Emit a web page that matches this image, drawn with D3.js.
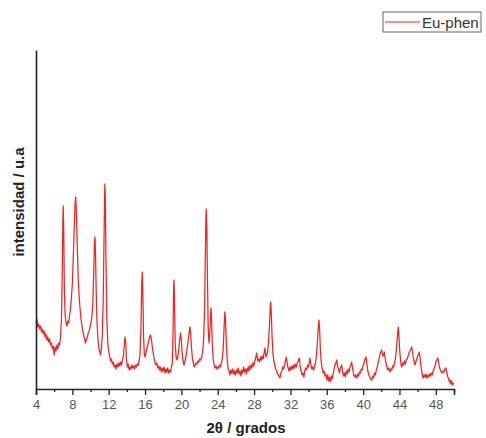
<!DOCTYPE html>
<html><head><meta charset="utf-8">
<script src="https://cdnjs.cloudflare.com/ajax/libs/d3/7.8.5/d3.min.js"></script>
<style>html,body{margin:0;padding:0;background:#fff;}svg{display:block;}</style>
</head><body>
<script>
const seriesName = "Eu-phen";
const xTicks = [4,8,12,16,20,24,28,32,36,40,44,48];
const xMinorTicks = [6,10,14,18,22,26,30,34,38,42,46,50];
const xTitle = "2θ / grados";
const yTitle = "intensidad / u.a";
// [2θ, intensity (a.u.)]
const pattern = [
[4.0,66],[4.1,70],[4.2,62],[4.3,65],[4.4,60],[4.5,63],[4.6,57],[4.7,60],[4.8,55],[4.9,58],[5.0,52],[5.1,55],[5.2,49],[5.3,52],[5.4,47],[5.5,50],[5.6,44],[5.7,46],[5.8,40],[5.9,43],[6.0,34],[6.1,42],[6.2,38],[6.3,44],[6.4,40],[6.5,46],[6.6,44],[6.7,52],[6.8,70],[6.88,110],[6.95,165],[7.0,183],[7.05,160],[7.12,100],[7.2,75],[7.3,66],[7.4,63],[7.5,68],[7.6,66],[7.7,74],[7.8,80],[7.9,92],[8.0,105],[8.1,130],[8.2,160],[8.3,185],[8.37,192],[8.45,175],[8.55,140],[8.65,110],[8.75,92],[8.85,80],[8.95,70],[9.05,64],[9.15,58],[9.25,54],[9.35,50],[9.45,46],[9.55,50],[9.65,52],[9.75,56],[9.85,58],[9.95,62],[10.05,66],[10.15,72],[10.25,85],[10.35,115],[10.43,145],[10.49,152],[10.55,135],[10.62,100],[10.7,70],[10.8,52],[10.9,42],[11.0,38],[11.1,34],[11.2,40],[11.3,55],[11.4,90],[11.5,160],[11.57,205],[11.63,190],[11.7,130],[11.8,70],[11.9,46],[12.0,38],[12.1,33],[12.2,28],[12.3,30],[12.4,25],[12.5,27],[12.6,22],[12.7,24],[12.8,20],[12.9,25],[13.0,22],[13.1,26],[13.2,23],[13.3,27],[13.4,24],[13.5,28],[13.6,32],[13.7,42],[13.8,52],[13.88,46],[13.95,30],[14.05,22],[14.15,25],[14.25,19],[14.35,22],[14.45,20],[14.55,24],[14.65,21],[14.75,23],[14.85,20],[14.95,24],[15.05,22],[15.15,25],[15.25,24],[15.35,28],[15.45,35],[15.55,60],[15.63,105],[15.7,117],[15.76,95],[15.83,55],[15.92,35],[16.0,32],[16.1,36],[16.2,40],[16.3,44],[16.4,48],[16.5,52],[16.6,54],[16.7,50],[16.8,42],[16.9,36],[17.0,30],[17.1,27],[17.2,24],[17.3,26],[17.4,21],[17.5,23],[17.6,19],[17.7,22],[17.8,17],[17.9,21],[18.0,18],[18.1,22],[18.2,16],[18.3,20],[18.4,17],[18.5,21],[18.6,16],[18.7,19],[18.8,17],[18.9,22],[19.0,26],[19.08,55],[19.14,100],[19.19,109],[19.25,85],[19.32,45],[19.42,32],[19.52,29],[19.62,33],[19.72,40],[19.82,50],[19.92,56],[20.0,48],[20.08,36],[20.18,28],[20.29,24],[20.4,28],[20.5,32],[20.6,38],[20.7,45],[20.8,52],[20.9,60],[20.95,62],[21.02,55],[21.12,40],[21.22,30],[21.32,26],[21.42,22],[21.52,24],[21.62,26],[21.72,25],[21.82,28],[21.92,27],[22.02,30],[22.12,29],[22.24,32],[22.35,38],[22.45,50],[22.55,80],[22.63,130],[22.7,172],[22.74,180],[22.8,160],[22.87,110],[22.95,60],[23.04,46],[23.12,55],[23.2,72],[23.26,81],[23.32,70],[23.4,45],[23.5,30],[23.6,24],[23.7,21],[23.8,23],[23.9,20],[24.0,22],[24.1,21],[24.2,24],[24.3,22],[24.4,26],[24.5,30],[24.6,40],[24.7,62],[24.78,77],[24.85,70],[24.95,45],[25.05,28],[25.15,20],[25.25,18],[25.35,14],[25.45,19],[25.55,16],[25.65,20],[25.75,15],[25.85,18],[25.95,14],[26.05,19],[26.15,16],[26.25,21],[26.35,15],[26.45,18],[26.55,13],[26.65,19],[26.75,16],[26.85,22],[26.95,17],[27.05,20],[27.15,15],[27.25,21],[27.35,18],[27.45,23],[27.55,19],[27.65,24],[27.75,21],[27.85,26],[27.95,23],[28.05,27],[28.15,30],[28.29,36],[28.4,28],[28.5,30],[28.6,27],[28.7,32],[28.8,29],[28.9,33],[29.0,30],[29.1,36],[29.2,41],[29.3,32],[29.4,34],[29.5,38],[29.6,48],[29.7,65],[29.78,82],[29.83,87],[29.9,75],[29.98,52],[30.08,35],[30.18,28],[30.28,24],[30.38,20],[30.48,18],[30.58,15],[30.68,14],[30.78,12],[30.85,11],[30.95,16],[31.05,18],[31.15,22],[31.25,20],[31.35,24],[31.45,28],[31.55,32],[31.65,25],[31.75,21],[31.85,18],[31.95,22],[32.05,19],[32.15,23],[32.25,20],[32.35,24],[32.45,21],[32.55,25],[32.65,22],[32.75,26],[32.85,28],[32.98,31],[33.08,22],[33.18,18],[33.28,14],[33.38,16],[33.48,12],[33.58,18],[33.68,21],[33.78,19],[33.88,24],[33.98,22],[34.08,27],[34.15,31],[34.25,24],[34.35,20],[34.45,22],[34.55,19],[34.65,23],[34.75,26],[34.85,32],[34.95,44],[35.05,60],[35.14,69],[35.22,58],[35.3,38],[35.4,26],[35.5,20],[35.6,16],[35.7,18],[35.8,13],[35.9,15],[36.0,9],[36.1,14],[36.2,8],[36.3,12],[36.4,7],[36.5,13],[36.6,10],[36.7,15],[36.8,20],[36.9,24],[37.0,26],[37.09,29],[37.2,22],[37.3,20],[37.4,16],[37.5,21],[37.64,24],[37.75,17],[37.85,13],[37.95,16],[38.05,12],[38.15,18],[38.25,15],[38.35,20],[38.45,17],[38.55,22],[38.65,24],[38.74,27],[38.85,20],[38.95,15],[39.05,12],[39.15,14],[39.3,11],[39.4,15],[39.5,13],[39.6,17],[39.7,16],[39.8,20],[39.9,19],[40.0,24],[40.1,26],[40.2,30],[40.32,32],[40.42,25],[40.52,18],[40.62,14],[40.72,12],[40.82,10],[40.94,9],[41.05,13],[41.15,11],[41.25,16],[41.35,14],[41.45,19],[41.55,22],[41.65,26],[41.75,30],[41.85,35],[41.95,37],[42.04,39],[42.15,33],[42.25,34],[42.33,37],[42.42,31],[42.52,26],[42.62,22],[42.72,19],[42.82,21],[42.96,17],[43.05,20],[43.15,19],[43.25,23],[43.35,22],[43.45,26],[43.55,30],[43.65,38],[43.75,50],[43.82,58],[43.87,62],[43.93,55],[44.0,42],[44.1,30],[44.18,24],[44.25,22],[44.35,26],[44.45,24],[44.55,28],[44.65,25],[44.75,29],[44.85,30],[44.95,33],[45.05,36],[45.15,38],[45.25,40],[45.35,42],[45.45,36],[45.55,30],[45.65,26],[45.71,24],[45.8,27],[45.9,30],[46.0,33],[46.1,35],[46.18,37],[46.28,30],[46.38,22],[46.48,16],[46.55,13],[46.62,11],[46.7,14],[46.8,12],[46.9,15],[47.0,11],[47.1,14],[47.2,12],[47.3,15],[47.4,13],[47.5,16],[47.6,14],[47.7,18],[47.8,20],[47.9,23],[48.0,27],[48.1,29],[48.2,31],[48.3,27],[48.4,22],[48.5,19],[48.6,17],[48.7,16],[48.8,18],[48.9,17],[49.0,20],[49.12,21],[49.22,16],[49.32,12],[49.42,10],[49.5,7],[49.56,9],[49.65,5],[49.75,8],[49.85,4],[49.95,6]
];

const W = 486, H = 438;
const svg = d3.select("body").append("svg").attr("width", W).attr("height", H);
const x = d3.scaleLinear().domain([4, 50]).range([36, 454]);
const y = d3.scaleLinear().domain([0, 339]).range([389, 50]);

// data line
const line = d3.line().x(d => x(d[0])).y(d => y(d[1]));
svg.append("path").datum(pattern)
  .attr("fill", "none").attr("stroke", "#ec2424").attr("stroke-width", 1.25)
  .attr("stroke-linejoin", "round")
  .attr("d", line);

// x axis
const xAxis = d3.axisBottom(x).tickValues(xTicks).tickSize(6).tickPadding(5).tickFormat(d3.format("d"));
const gx = svg.append("g").attr("transform", "translate(0,389)").call(xAxis);
gx.select(".domain").attr("stroke", "#222").attr("stroke-width", 1.6);
gx.selectAll(".tick line").attr("stroke", "#222").attr("stroke-width", 1.3);
gx.selectAll(".tick text").attr("fill", "#555").attr("font-size", 13).attr("font-family", "Liberation Sans, Arial, sans-serif");
const xMinor = d3.axisBottom(x).tickValues(xMinorTicks).tickSize(3).tickFormat("");
const gxm = svg.append("g").attr("transform", "translate(0,389)").call(xMinor);
gxm.select(".domain").remove();
gxm.selectAll(".tick line").attr("stroke", "#222").attr("stroke-width", 1.3);

// y axis (no ticks)
const yAxis = d3.axisLeft(y).tickValues([]).tickSizeOuter(0);
const gy = svg.append("g").attr("transform", "translate(36,0)").call(yAxis);
gy.select(".domain").attr("stroke", "#222").attr("stroke-width", 1.6);

// titles
svg.append("text").attr("x", 246).attr("y", 433).attr("text-anchor", "middle")
  .attr("font-family", "Liberation Sans, Arial, sans-serif").attr("font-weight", "bold")
  .attr("font-size", 15).attr("fill", "#222").text(xTitle);
svg.append("text").attr("transform", "translate(24,202) rotate(-90)").attr("text-anchor", "middle")
  .attr("font-family", "Liberation Sans, Arial, sans-serif").attr("font-weight", "bold")
  .attr("font-size", 15).attr("fill", "#222").text(yTitle);

// legend
const lg = svg.append("g");
lg.append("rect").attr("x", 383).attr("y", 12).attr("width", 98).attr("height", 20)
  .attr("fill", "#fff").attr("stroke", "#666").attr("stroke-width", 1);
lg.append("line").attr("x1", 385).attr("x2", 420).attr("y1", 22).attr("y2", 22)
  .attr("stroke", "#ec2424").attr("stroke-width", 1);
lg.append("text").attr("x", 422).attr("y", 27.5).attr("font-family", "Liberation Sans, Arial, sans-serif")
  .attr("font-size", 15).attr("fill", "#333").text(seriesName);
</script>
</body></html>
